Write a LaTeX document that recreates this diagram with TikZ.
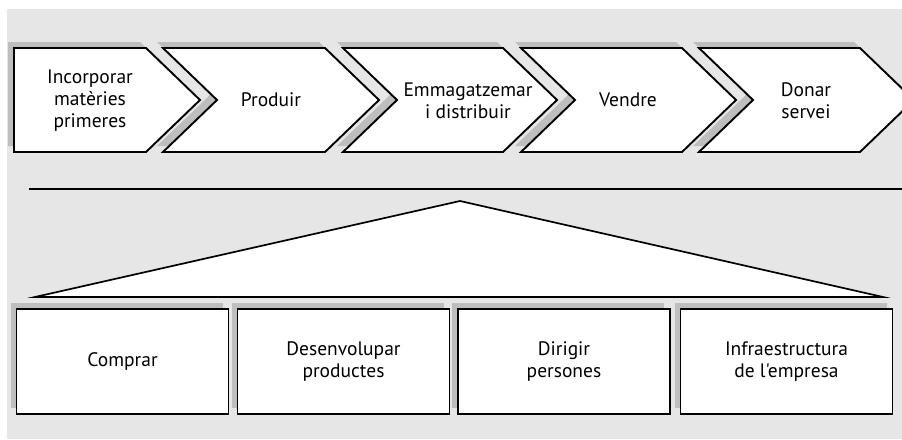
\documentclass[tikz,border=0pt]{standalone}
\usepackage{fontspec}
\setmainfont{PT Sans}[Ligatures=TeXOff]
\definecolor{bggray}{HTML}{E6E6E6}
\definecolor{shadowgray}{HTML}{BEBEBE}
\begin{document}
\begin{tikzpicture}[x=1pt,y=-1pt,
  edge/.style={draw=black,line width=1.9pt,fill=white,line join=miter},
  shadefill/.style={fill=shadowgray,draw=none},
  lbl/.style={align=center,font=\fontsize{19.5}{22}\selectfont,inner sep=0pt},
  boxst/.style={edge,minimum width=212pt,minimum height=105pt,inner sep=0pt,align=center,font=\fontsize{19.5}{22}\selectfont}]
\useasboundingbox (0,0) rectangle (902,439);
\fill[bggray] (7,9) rectangle (902,439);
\begin{scope}
\clip (0,0) rectangle (902,439);
% shadows of chevrons
\fill[shadefill,shift={(-6,-6)}] (14,48) -- (146,48) -- (200,100) -- (146,152) -- (14,152) -- cycle;
\foreach \L/\R in {163/325,343/503,521/682,699/860}{
  \fill[shadefill,shift={(-6,-6)}] (\L,48) -- (\R,48) -- (\R+54,100) -- (\R,152) -- (\L,152) -- (\L+54,100) -- cycle;
}
% chevrons
\draw[edge] (14,48) -- (146,48) -- (200,100) -- (146,152) -- (14,152) -- cycle;
\foreach \L/\R in {163/325,343/503,521/682,699/860}{
  \draw[edge] (\L,48) -- (\R,48) -- (\R+54,100) -- (\R,152) -- (\L,152) -- (\L+54,100) -- cycle;
}
\end{scope}
\node[lbl] (c1) at (90,101) {Incorporar\\matèries\\primeres};
\node[lbl] (c2) at (271,100) {Produir};
\node[lbl] (c3) at (468,101) {Emmagatzemar\\i distribuir};
\node[lbl] (c4) at (628,100) {Vendre};
\node[lbl] (c5) at (806,101) {Donar\\servei};
% separator line
\draw[line width=1.7pt] (29,189) -- (902,189);
% triangle
\draw[edge,line width=1.7pt] (35,297) -- (460,201) -- (883,297) -- cycle;
% bottom boxes with shadows
\foreach \cx in {122.5,343.5,564,786.5}{
  \fill[shadefill] (\cx-106-6,309-6) rectangle (\cx+106-6,414-6);
}
\node[boxst] (b1) at (122.5,361.5) {Comprar};
\node[boxst] (b2) at (343.5,361.5) {Desenvolupar\\productes};
\node[boxst] (b3) at (564,361.5) {Dirigir\\persones};
\node[boxst] (b4) at (786.5,361.5) {Infraestructura\\de l'empresa};
\end{tikzpicture}
\end{document}
